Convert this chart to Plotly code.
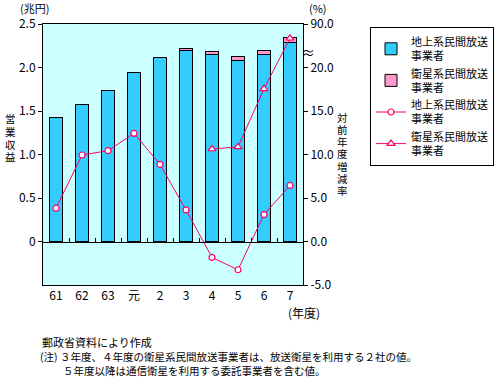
import plotly.graph_objects as go

categories = ["61", "62", "63", "元", "2", "3", "4", "5", "6", "7"]
ground_revenue = [1.425, 1.571, 1.736, 1.944, 2.11, 2.19, 2.148, 2.082, 2.148, 2.286]
sat_revenue = [None, None, None, None, None, 0.03, 0.035, 0.046, 0.045, 0.055]
ground_growth = [3.83, 9.94, 10.44, 12.43, 8.86, 3.63, -1.83, -3.25, 3.1, 6.44]
sat_growth = [None, None, None, None, None, None, 10.63, 10.87, 17.55, 23.36]
left_ticks = [0, 0.5, 1.0, 1.5, 2.0, 2.5]
left_ticktext = ["0", "0.5", "1.0", "1.5", "2.0", "2.5"]
right_ticks = [-5, 0, 5, 10, 15, 20, 25]
right_ticktext = ["-5.0", "0.0", "5.0", "10.0", "15.0", "20.0", "90.0"]

FONT = "Noto Sans CJK JP"
PINK = "#FF0066"
xs = list(range(len(categories)))
name_g = "地上系民間放送<br>事業者"
name_s = "衛星系民間放送<br>事業者"

fig = go.Figure()
fig.add_trace(go.Bar(x=xs, y=ground_revenue, name=name_g, marker=dict(color="#33CCFF", line=dict(color="black", width=1)), yaxis="y"))
fig.add_trace(go.Bar(x=xs, y=sat_revenue, name=name_s, marker=dict(color="#FF99CC", line=dict(color="black", width=1)), yaxis="y"))
fig.add_trace(go.Scatter(x=xs, y=ground_growth, name=name_g, mode="lines+markers", yaxis="y2",
                         line=dict(color=PINK, width=1),
                         marker=dict(symbol="circle", size=6, color="white", line=dict(color=PINK, width=1.2))))
fig.add_trace(go.Scatter(x=xs, y=sat_growth, name=name_s, mode="lines+markers", yaxis="y2",
                         line=dict(color=PINK, width=1),
                         marker=dict(symbol="triangle-up", size=7, color="white", line=dict(color=PINK, width=1.2))))

annotations = [
    dict(text="(兆円)", x=34, y=8, font=dict(size=11)),
    dict(text="(%)", x=318, y=8, font=dict(size=11)),
    dict(text="(年度)", x=304, y=312, font=dict(size=12)),
    dict(text="≈", x=308, y=52, font=dict(size=14)),
    dict(text="郵政省資料により作成", x=40, y=342, xanchor="left", font=dict(size=11)),
    dict(text="(注) ３年度、４年度の衛星系民間放送事業者は、放送衛星を利用する２社の値。", x=38, y=356, xanchor="left", font=dict(size=10.5)),
    dict(text="５年度以降は通信衛星を利用する委託事業者を含む値。", x=61, y=370.5, xanchor="left", font=dict(size=10.5)),
]
for i, ch in enumerate("営業収益"):
    annotations.append(dict(text=ch, x=10, y=119 + 12.5 * i, font=dict(size=10.5)))
for i, ch in enumerate("対前年度増減率"):
    annotations.append(dict(text=ch, x=342, y=117 + 12.3 * i, font=dict(size=10.5)))

W, H = 501, 380
anns = []
for a in annotations:
    d = dict(showarrow=False, xref="paper", yref="paper", xanchor=a.get("xanchor", "center"), yanchor="middle")
    d.update(a)
    d["x"] = (a["x"] - 43) / 260
    d["y"] = (285 - a["y"]) / 261
    anns.append(d)

fig.update_layout(
    width=W, height=H,
    margin=dict(l=43, r=198, t=24, b=95, autoexpand=False),
    paper_bgcolor="white", plot_bgcolor="#CCFFFF",
    font=dict(family=FONT, size=12, color="black"),
    barmode="stack", bargap=0.5,
    showlegend=True,
    legend=dict(x=(370 - 43) / 260, y=(285 - 27) / 261, xanchor="left", yanchor="top",
                bordercolor="black", borderwidth=1, bgcolor="white", traceorder="normal",
                font=dict(size=11, family=FONT), tracegroupgap=0),
    xaxis=dict(range=[-0.5, 9.5], tickvals=xs, ticktext=categories, showline=True, linecolor="black",
               mirror=True, ticks="", showgrid=False, zeroline=False, automargin=False),
    xaxis2=dict(range=[-0.5, 9.5], overlaying="x", anchor="free", position=(0.5 / 3),
                tickvals=[i + 0.5 for i in range(9)], ticks="inside", ticklen=4, tickcolor="black",
                showticklabels=False, showline=True, linecolor="black", showgrid=False, zeroline=False),
    yaxis=dict(range=[-0.5, 2.5], tickvals=left_ticks, ticktext=left_ticktext, ticks="outside", ticklen=4,
               tickcolor="black", showline=True, linecolor="black", showgrid=False, zeroline=False, automargin=False),
    yaxis2=dict(range=[-5, 25], tickvals=right_ticks, ticktext=right_ticktext, overlaying="y", side="right",
                ticks="outside", ticklen=4, tickcolor="black", showline=True, linecolor="black",
                showgrid=False, zeroline=False, automargin=False),
    annotations=anns,
)
fig.add_trace(go.Scatter(x=[None], y=[None], xaxis="x2", showlegend=False, hoverinfo="skip"))
fig.write_html("out.html", config={"displayModeBar": False},
               post_script="document.body.style.margin='0';document.body.style.overflow='hidden';")
